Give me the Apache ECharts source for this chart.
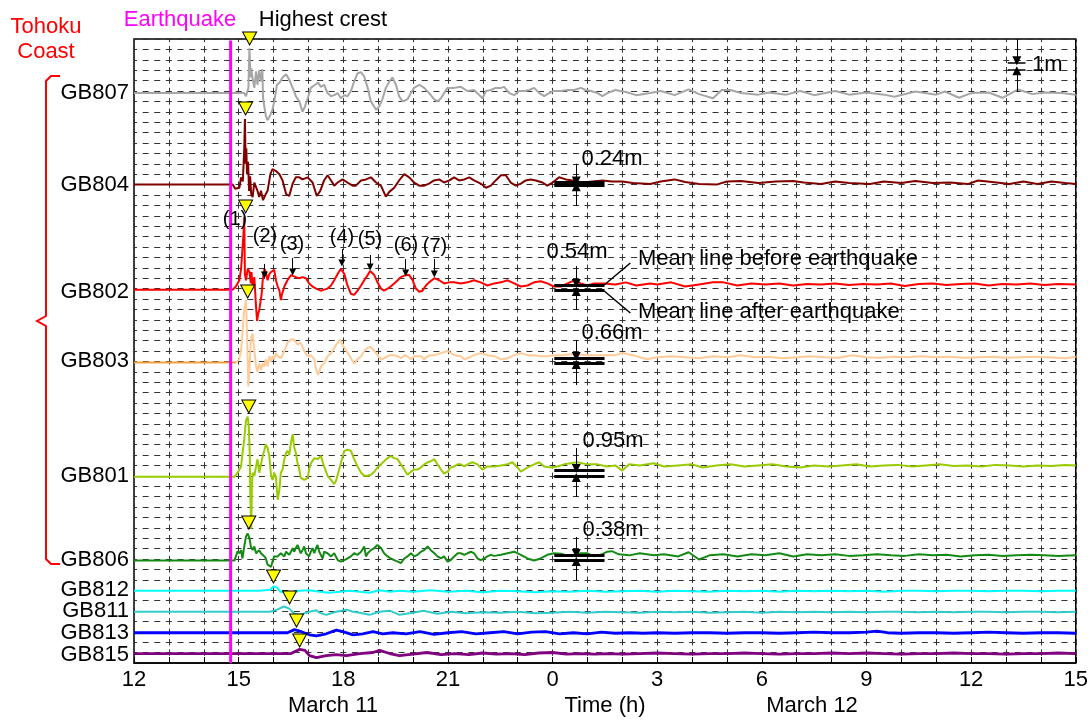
<!DOCTYPE html>
<html><head><meta charset="utf-8">
<script src="https://cdn.jsdelivr.net/npm/echarts@6/dist/echarts.min.js"></script>
<style>html,body{margin:0;padding:0;background:#fff}#c{width:1091px;height:720px}</style>
</head><body><div id="c"></div>
<script>
// ---------- DATA (time in hours from 00:00 March 11; offsets in grid rows) ----------
const stations = ['GB807','GB804','GB802','GB803','GB801','GB806','GB812','GB811','GB813','GB815'];
const baseLevels = [54.8, 46.0, 35.9, 28.9, 17.9, 9.85, 6.95, 4.93, 2.91, 0.91];
const lineColors = ['#A6A6A6','#800000','#FF0000','#FFCC99','#99CC00','#138A13','#00FFFF','#33CCCC','#0000FF','#800080'];
const preQuakeColorGB803 = '#F5A040';
const quakeTime = 14.77;

const gb807 = [[12,0],[14.77,0],[15.16,0],[15.21,-0.3],[15.28,0.5],[15.31,4.3],[15.34,1.5],[15.36,2.4],[15.40,1.4],[15.45,0.5],[15.50,2.1],[15.54,0.8],[15.59,2.2],[15.64,1.1],[15.68,2.3],[15.70,-0.5],[15.74,-0.6],[15.78,-2.2],[15.83,-2.6],[15.91,-2.1],[15.97,-1.6],[16.02,-0.8],[16.10,0.8],[16.17,1.0],[16.26,1.5],[16.36,1.8],[16.45,1.3],[16.55,0.5],[16.64,-0.3],[16.74,-0.8],[16.83,-1.8],[16.90,-1.3],[16.98,-0.5],[17.07,0.5],[17.19,0.8],[17.28,1.0],[17.36,0.6],[17.45,0.8],[17.55,0],[17.65,-0.3],[17.74,-0.2],[17.84,0],[17.93,-0.5],[18.03,-0.2],[18.12,-0.3],[18.22,0.2],[18.31,1.1],[18.41,1.9],[18.51,2.0],[18.60,1.6],[18.70,0.5],[18.79,-0.8],[18.94,-1.6],[19.03,-1.3],[19.13,-0.5],[19.22,0.5],[19.32,1.1],[19.41,1.5],[19.51,0.8],[19.60,-0.3],[19.70,-0.8],[19.84,-0.6],[19.94,0],[20.03,0.5],[20.18,0.8],[20.32,0.5],[20.46,0],[20.61,-0.6],[20.70,-0.8],[20.80,-0.5],[20.89,0],[20.99,0.5],[21.18,0.5],[21.37,0.6],[21.56,0.2],[21.75,0.3],[21.90,-0.2],[21.99,-0.5],[22.09,0.2],[22.23,0.3],[22.37,0.5],[22.52,0.5],[22.61,0.6],[22.76,0],[22.90,-0.2],[23.04,0.2],[23.19,0.2],[23.33,0.3],[23.47,0.5],[23.62,0],[23.76,-0.3],[23.90,0],[24.04,0.2],[24.24,0.2],[24.43,0.3],[24.62,0.3],[24.81,0.5],[24.95,0.3],[25.10,0.2],[25.29,0],[25.43,-0.3],[25.57,0],[25.8,0.3],[26.1,0.1],[26.4,-0.2],[26.8,0.0],[27.1,0.2],[27.5,-0.2],[27.9,0.35],[28.2,-0.1],[28.6,-0.5],[28.85,0.3],[29.1,0.3],[29.4,0],[29.9,-0.15],[30.2,0.05],[30.7,-0.15],[31.1,0.2],[31.5,-0.2],[32.1,0.2],[32.5,-0.15],[33.0,0.05],[33.5,-0.15],[33.8,-0.35],[34.4,0.15],[35.0,-0.15],[35.25,0.15],[35.65,-0.45],[36.0,0],[36.5,0.05],[36.9,-0.45],[37.35,0.35],[37.75,-0.1],[38.1,0.05],[38.6,0],[39,-0.15]];

const gb804 = [[12,0],[14.77,0],[14.83,0],[14.9,-0.4],[15.02,-0.3],[15.07,0.7],[15.12,0.3],[15.16,3.4],[15.18,6.3],[15.2,2.0],[15.22,3.5],[15.24,1.0],[15.27,2.2],[15.30,-0.6],[15.33,0.8],[15.36,-0.9],[15.40,-1.2],[15.45,0.2],[15.50,0.1],[15.54,-0.6],[15.59,-1.2],[15.64,-0.6],[15.70,-1.5],[15.74,-1.4],[15.78,-0.9],[15.83,-0.6],[15.91,1.0],[15.97,1.5],[16.07,1.3],[16.17,1.0],[16.26,0.4],[16.36,-0.9],[16.45,-1.1],[16.55,0.1],[16.64,0.7],[16.74,0.7],[16.83,0.5],[16.98,0.7],[17.12,0.2],[17.24,-1.1],[17.34,-0.6],[17.45,0.4],[17.55,0.9],[17.65,0.4],[17.74,-0.1],[17.84,0.2],[17.98,0.5],[18.12,0.2],[18.27,-0.1],[18.36,-0.1],[18.51,0.4],[18.65,0.5],[18.79,0.7],[18.94,0.2],[19.08,-0.1],[19.22,-1.15],[19.32,-0.7],[19.46,-0.3],[19.6,0.4],[19.75,1.0],[19.89,0.7],[20.03,0.2],[20.18,-0.1],[20.32,-0.1],[20.46,0.1],[20.6,0.4],[20.75,0.5],[20.89,0.2],[21.04,0.4],[21.18,0.7],[21.32,0.4],[21.47,0.5],[21.61,0.7],[21.75,0.4],[21.94,0.1],[22.09,-0.3],[22.23,-0.1],[22.37,0.4],[22.52,0.9],[22.66,0.9],[22.8,0.2],[22.95,-0.1],[23.09,0.1],[23.23,0.4],[23.37,0.5],[23.52,0.4],[23.71,0.2],[23.85,-0.1],[24.0,0.2],[24.19,0.7],[24.38,0.5],[24.57,0.4],[24.86,0.2],[25.14,0.3],[25.43,0.4],[25.7,0.3],[26.0,0.3],[26.3,0.15],[26.8,0.05],[27.1,0.3],[27.5,0.5],[27.8,0.25],[28.2,0.05],[28.7,0.0],[29.0,0.3],[29.4,0.35],[29.9,0.15],[30.4,0.3],[30.9,0.35],[31.2,0.2],[31.7,0.05],[32.1,0.3],[32.5,0.15],[33.1,0.05],[33.5,0.3],[34.0,0.15],[34.4,0.35],[34.9,0.15],[35.4,0.2],[35.9,0.05],[36.2,0.4],[36.6,0.25],[37.1,0.05],[37.5,0.3],[37.9,0.05],[38.3,0.3],[38.7,0.15],[39,0.05]];

const gb802 = [[12,0],[14.77,0],[14.83,0],[14.92,0.3],[15.02,0.9],[15.07,2.0],[15.11,1.9],[15.14,5.4],[15.16,7.0],[15.18,1.5],[15.21,0.9],[15.26,2.0],[15.31,1.7],[15.35,0.6],[15.37,1.7],[15.40,0.3],[15.45,1.2],[15.50,-1.7],[15.53,-3.0],[15.56,-2.3],[15.59,-2.0],[15.64,-2.0],[15.66,-0.4],[15.69,0.9],[15.74,2.0],[15.78,1.7],[15.83,0.9],[15.88,1.5],[15.93,1.7],[15.97,1.7],[16.02,1.9],[16.07,0.9],[16.12,0.3],[16.17,-0.1],[16.21,-1.0],[16.24,-0.5],[16.31,0.3],[16.40,0.9],[16.50,1.4],[16.55,1.5],[16.64,1.2],[16.74,1.1],[16.83,1.2],[16.93,1.1],[17.02,0.6],[17.12,0.3],[17.22,0.1],[17.36,-0.1],[17.45,0],[17.55,0.1],[17.65,0.4],[17.74,0.9],[17.84,1.5],[17.93,2.0],[18.03,1.5],[18.12,0.4],[18.22,-0.4],[18.31,-0.5],[18.41,-0.1],[18.51,0.4],[18.60,0.9],[18.70,1.4],[18.77,1.8],[18.89,1.4],[18.98,0.7],[19.08,0.1],[19.17,-0.1],[19.27,0.1],[19.36,0.3],[19.46,0.6],[19.56,0.9],[19.65,1.2],[19.79,1.4],[19.89,1.4],[19.99,0.9],[20.08,0.1],[20.18,-0.2],[20.27,-0.1],[20.37,0.4],[20.46,0.7],[20.61,1.1],[20.75,0.9],[20.89,0.6],[21.04,0.7],[21.18,0.7],[21.37,0.6],[21.56,0.7],[21.75,0.9],[21.94,0.7],[22.13,0.4],[22.33,0.6],[22.52,0.7],[22.71,0.9],[22.90,0.6],[23.09,0.3],[23.28,0.4],[23.47,0.7],[23.66,0.8],[23.85,0.6],[24.04,0.3],[24.24,0.3],[24.43,0.6],[24.62,0.9],[24.81,0.6],[25.0,0.4],[25.19,0.6],[25.48,0.6],[25.8,0.5],[26.1,0.7],[26.4,0.4],[26.8,0.6],[27.0,0.5],[27.4,0.7],[27.8,0.3],[28.2,0.5],[28.6,0.7],[28.9,0.7],[29.3,0.4],[29.7,0.6],[30.1,0.5],[30.5,0.6],[30.9,0.4],[31.3,0.55],[31.7,0.5],[32.1,0.6],[32.5,0.45],[32.9,0.55],[33.3,0.5],[33.7,0.6],[34.1,0.35],[34.5,0.55],[34.9,0.6],[35.3,0.45],[35.7,0.55],[36.1,0.6],[36.5,0.4],[36.9,0.55],[37.3,0.5],[37.7,0.6],[38.1,0.45],[38.5,0.55],[39,0.5]];

const gb803 = [[12,0],[14.77,0],[14.92,0],[15.02,0.3],[15.07,1.2],[15.11,2.8],[15.16,5.1],[15.21,6.0],[15.24,2.8],[15.28,-2.3],[15.32,-0.1],[15.35,2.2],[15.40,2.8],[15.45,1.2],[15.50,-0.4],[15.54,-0.9],[15.59,-0.1],[15.64,-0.7],[15.69,-0.1],[15.74,-0.4],[15.78,0.3],[15.83,-0.4],[15.88,0.6],[15.93,0.1],[15.97,0.6],[16.02,0.3],[16.07,0.9],[16.12,0.6],[16.21,0.4],[16.31,1.1],[16.40,1.9],[16.50,2.2],[16.59,2.2],[16.69,1.7],[16.78,1.9],[16.88,1.1],[16.98,0.6],[17.07,0.7],[17.17,0.3],[17.22,-0.7],[17.28,-1.2],[17.36,-0.4],[17.45,-0.1],[17.55,0.6],[17.65,0.9],[17.74,1.4],[17.84,1.9],[17.91,2.2],[17.98,1.7],[18.07,1.2],[18.17,0.7],[18.31,-0.1],[18.41,0.3],[18.51,0.6],[18.60,1.1],[18.70,1.4],[18.79,1.5],[18.89,1.1],[18.98,0.7],[19.08,0.3],[19.17,0.4],[19.27,0.6],[19.36,0.7],[19.46,0.7],[19.56,0.6],[19.65,0.4],[19.75,0.7],[19.84,0.6],[19.94,0.3],[20.03,0.6],[20.13,0.6],[20.23,0.6],[20.32,0.3],[20.42,0.6],[20.51,0.7],[20.61,0.7],[20.80,0.9],[20.99,1.1],[21.18,0.7],[21.37,0.6],[21.47,0.3],[21.56,0.4],[21.75,0.7],[21.94,0.9],[22.13,0.7],[22.33,0.6],[22.52,0.3],[22.71,0.4],[22.90,0.7],[23.09,0.9],[23.28,0.7],[23.47,0.7],[23.66,0.6],[23.85,0.6],[24.04,0.7],[24.24,0.7],[24.62,0.8],[25.0,0.7],[25.48,0.7],[25.8,0.7],[26.0,0.9],[26.3,0.7],[26.7,0.3],[27.0,0.5],[27.4,0.6],[27.8,0.5],[28.2,0.4],[28.6,0.6],[29.0,0.5],[29.4,0.7],[29.8,0.5],[30.2,0.55],[30.6,0.4],[31.0,0.5],[31.4,0.6],[31.8,0.5],[32.2,0.45],[32.6,0.7],[33.0,0.5],[33.4,0.45],[33.8,0.55],[34.2,0.5],[34.6,0.6],[35.0,0.5],[35.4,0.55],[35.8,0.45],[36.2,0.5],[36.6,0.55],[37.0,0.45],[37.4,0.5],[37.8,0.55],[38.2,0.5],[38.7,0.4],[39,0.55]];

const gb801 = [[12,0],[14.77,0],[14.88,0],[14.97,0.4],[15.07,1.0],[15.11,2.2],[15.16,3.6],[15.21,5.4],[15.26,5.8],[15.29,4.9],[15.32,2.0],[15.33,-1.2],[15.36,-5.0],[15.38,-1.0],[15.40,0.4],[15.45,0.1],[15.50,1.0],[15.54,1.7],[15.59,0.4],[15.64,0.5],[15.69,2.0],[15.74,2.6],[15.78,3.1],[15.83,2.8],[15.88,2.0],[15.93,0.1],[15.97,-0.3],[16.02,0.4],[16.07,-0.1],[16.12,-2.2],[16.17,-1.2],[16.21,0.4],[16.26,0.7],[16.31,1.7],[16.36,2.3],[16.40,2.5],[16.45,2.1],[16.50,3.3],[16.55,4.1],[16.59,2.9],[16.64,2.3],[16.69,1.3],[16.74,0.7],[16.78,-0.1],[16.88,-0.3],[16.98,-0.1],[17.02,0.7],[17.07,1.3],[17.17,1.8],[17.26,1.7],[17.36,2.0],[17.45,1.0],[17.55,0.1],[17.65,-0.3],[17.74,-0.7],[17.79,-0.4],[17.84,0.2],[17.93,1.3],[18.03,2.5],[18.12,2.6],[18.22,2.5],[18.31,1.7],[18.41,1.0],[18.51,0.4],[18.60,0.1],[18.70,0.1],[18.79,0.2],[18.89,0.5],[18.98,0.9],[19.08,1.2],[19.17,1.5],[19.27,1.8],[19.36,2.0],[19.46,1.8],[19.56,1.7],[19.65,1.2],[19.75,0.7],[19.84,0.2],[19.94,0.5],[20.03,0.7],[20.13,0.7],[20.23,0.9],[20.32,1.2],[20.42,1.4],[20.51,1.5],[20.61,1.7],[20.70,1.2],[20.80,0.7],[20.89,0.3],[20.99,0.5],[21.08,0.9],[21.18,1.0],[21.28,1.2],[21.37,1.2],[21.47,1.0],[21.56,1.2],[21.70,1.4],[21.85,1.2],[21.99,0.7],[22.13,1.0],[22.33,1.0],[22.52,1.1],[22.71,1.2],[22.85,1.4],[22.99,0.9],[23.09,0.5],[23.28,0.9],[23.47,1.2],[23.62,1.4],[23.76,1.0],[23.95,0.9],[24.14,1.0],[24.33,1.2],[24.52,1.3],[24.71,1.4],[25.0,1.2],[25.29,1.2],[25.57,1.0],[25.8,1.1],[26.0,0.6],[26.2,1.2],[26.5,1.1],[26.9,1.3],[27.2,1.0],[27.6,1.1],[28.0,1.2],[28.3,0.9],[28.7,1.1],[29.1,1.2],[29.5,1.0],[29.9,1.1],[30.3,1.2],[30.7,1.0],[31.1,0.9],[31.5,1.1],[31.9,1.0],[32.3,1.1],[32.7,1.2],[33.1,1.0],[33.5,1.1],[33.9,1.15],[34.3,1.0],[34.7,1.1],[35.1,1.2],[35.5,1.05],[35.9,1.1],[36.3,1.0],[36.7,1.15],[37.1,1.1],[37.5,1.0],[37.9,1.1],[38.3,1.05],[38.7,1.15],[39,1.1]];

const gb806 = [[12,0],[14.77,0],[14.88,0],[14.92,0.4],[14.97,0.9],[15.02,0.7],[15.07,1.0],[15.11,0.2],[15.16,1.35],[15.21,2.3],[15.26,2.6],[15.31,2.15],[15.35,1.35],[15.40,1.0],[15.45,1.35],[15.50,0.7],[15.54,0.55],[15.59,1.0],[15.64,0.7],[15.69,0.85],[15.74,0.4],[15.78,0.2],[15.83,-0.4],[15.88,-0.25],[15.93,-0.6],[15.97,-0.1],[16.02,0.4],[16.07,0.55],[16.12,0.4],[16.17,0.55],[16.21,0.7],[16.26,0.55],[16.31,0.4],[16.36,0.85],[16.40,1.0],[16.45,0.55],[16.50,0.85],[16.55,1.2],[16.59,0.85],[16.64,1.2],[16.69,1.5],[16.74,1.35],[16.78,0.7],[16.83,1.0],[16.88,1.35],[16.93,0.7],[16.98,0.55],[17.02,0.4],[17.07,0.85],[17.12,1.2],[17.17,0.7],[17.22,1.2],[17.26,1.5],[17.31,0.85],[17.36,0.7],[17.41,0.2],[17.45,0.85],[17.50,1.0],[17.55,0.7],[17.65,0.4],[17.74,0.7],[17.84,0.05],[17.93,-0.1],[18.03,0.05],[18.12,0.2],[18.22,0.4],[18.31,0.7],[18.41,0.55],[18.51,0.85],[18.60,1.35],[18.65,0.4],[18.70,0.7],[18.79,1.0],[18.89,1.2],[18.98,1.5],[19.08,1.2],[19.17,0.7],[19.27,0.4],[19.36,0.2],[19.46,0.05],[19.56,-0.1],[19.65,-0.25],[19.75,0.2],[19.84,0.4],[19.94,0.7],[20.03,0.4],[20.13,0.55],[20.23,0.85],[20.32,1.0],[20.42,1.35],[20.51,1.0],[20.61,0.7],[20.70,0.4],[20.80,0.2],[20.89,0.4],[20.99,-0.1],[21.08,0.05],[21.18,0.4],[21.28,0.7],[21.37,0.7],[21.47,0.55],[21.56,0.7],[21.66,0.85],[21.75,0.7],[21.85,0.2],[21.94,0.05],[22.04,0.2],[22.13,0.4],[22.23,0.55],[22.33,0.45],[22.52,0.55],[22.71,0.7],[22.90,0.85],[23.09,0.55],[23.28,0.2],[23.47,0],[23.66,0.2],[23.85,0.55],[24.04,0.7],[24.24,0.65],[24.43,0.45],[24.62,0.55],[24.81,0.7],[25.0,0.7],[25.19,0.4],[25.38,0.55],[25.57,0.85],[25.7,0.9],[25.9,0.6],[26.2,0.5],[26.5,0.7],[26.9,0.5],[27.2,0.6],[27.6,0.4],[27.9,0.8],[28.2,0.1],[28.5,0.5],[28.9,0.6],[29.3,0.4],[29.7,0.6],[30.1,0.5],[30.5,0.7],[30.9,0.4],[31.3,0.6],[31.7,0.5],[32.1,0.6],[32.5,0.45],[32.9,0.5],[33.3,0.6],[33.7,0.5],[34.1,0.45],[34.5,0.6],[34.9,0.5],[35.3,0.55],[35.7,0.4],[36.1,0.5],[36.5,0.55],[36.9,0.45],[37.3,0.5],[37.7,0.55],[38.1,0.5],[38.5,0.45],[39,0.5]];

const gb812 = [[12,0],[15.6,0],[15.9,0.1],[16.0,0.4],[16.1,0.3],[16.2,-0.1],[16.46,-0.2],[16.75,0],[17.03,0.05],[17.32,-0.1],[17.61,-0.2],[17.89,-0.1],[18.18,0],[18.47,-0.1],[18.75,-0.2],[19.04,0.05],[19.33,-0.1],[19.61,0],[20,-0.1],[20.5,0.05],[21,-0.1],[21.5,0],[22,-0.15],[22.5,0],[23,-0.05],[23.5,-0.15],[24,-0.05],[24.5,-0.1],[25,0],[25.5,-0.1],[26,-0.05],[26.5,0],[27,-0.1],[27.5,0],[28,-0.05],[28.5,-0.1],[29,0],[29.5,-0.05],[30,0],[30.5,-0.1],[31,0],[31.5,-0.05],[32,0],[32.5,-0.05],[33,0],[33.5,-0.1],[34,0],[34.5,0],[35,-0.05],[35.5,0],[36,0],[36.5,-0.05],[37,0],[37.5,0],[38,-0.05],[38.5,0],[39,0]];

const gb811 = [[12,0],[15.9,0],[16.1,0.2],[16.3,0.5],[16.45,0.3],[16.6,-0.2],[16.75,-0.3],[17.03,0],[17.23,0.15],[17.32,-0.1],[17.51,-0.3],[17.8,0],[18.09,0.2],[18.28,0],[18.47,-0.1],[18.75,-0.3],[19.04,0],[19.33,0.1],[19.61,-0.3],[20,-0.1],[20.3,0.1],[20.7,-0.2],[21.1,0],[21.5,-0.15],[22,-0.05],[22.5,-0.1],[23,0],[23.5,-0.15],[24,-0.1],[24.5,0],[25,-0.1],[25.5,0],[26,-0.05],[26.5,-0.1],[27,0],[27.5,-0.05],[28,0],[28.5,-0.1],[29,-0.05],[29.5,0],[30,-0.1],[30.5,0],[31,-0.05],[31.5,0],[32,-0.05],[32.5,0],[33,-0.05],[33.5,0],[34,0],[34.5,-0.05],[35,0],[35.5,-0.05],[36,0],[36.5,0],[37,-0.05],[37.5,0],[38,0],[38.5,-0.05],[39,0]];

const gb813 = [[12,0],[16.4,0],[16.6,0.3],[16.8,0.1],[17.03,-0.2],[17.23,-0.3],[17.51,-0.1],[17.8,0.25],[17.99,0.1],[18.28,-0.2],[18.56,-0.1],[18.85,0.1],[19.13,-0.1],[19.42,0],[19.8,-0.1],[20.2,0.1],[20.6,-0.15],[21,0],[21.4,0.1],[21.8,-0.1],[22.2,0],[22.6,0.1],[23,-0.1],[23.4,0.05],[23.8,0.1],[24.2,-0.1],[24.6,0],[25,-0.1],[25.4,0.05],[25.8,-0.05],[26.2,0],[26.6,-0.05],[27,0],[27.5,-0.05],[28,0],[28.5,0],[29,-0.05],[29.5,0],[30,0],[30.5,-0.05],[31,0],[31.5,0.05],[32,0],[32.5,0],[33,0.05],[33.3,0.15],[33.6,0],[34,-0.05],[34.5,0],[35,0],[35.5,-0.05],[36,0],[36.5,0.05],[37,0],[37.5,-0.05],[38,0],[38.5,0],[39,-0.05]];

const gb815 = [[12,0],[16.5,0],[16.75,0.4],[16.9,0.3],[17.03,-0.2],[17.23,-0.4],[17.51,-0.2],[17.8,-0.1],[18.09,-0.2],[18.47,0],[18.85,0.1],[19.04,0.3],[19.33,0],[19.61,-0.2],[20,-0.05],[20.4,0.1],[20.8,-0.1],[21.2,0],[21.6,-0.1],[22,0.05],[22.4,-0.05],[22.8,0],[23.2,-0.1],[23.6,0.05],[24,0.1],[24.4,-0.05],[24.8,0],[25.2,-0.05],[25.6,0],[26,-0.05],[26.5,0],[27,0.05],[27.5,0],[28,-0.05],[28.5,0],[29,0],[29.5,0.05],[30,0],[30.5,-0.05],[31,0],[31.5,0],[32,0.05],[32.5,0],[33,0.05],[33.5,0],[34,-0.05],[34.5,0],[35,0],[35.5,0.05],[36,0],[36.5,0],[37,-0.05],[37.5,0],[38,0],[38.5,0.05],[39,0]];

// highest crest markers (time, level of triangle tip)
const crestTimes = [15.315, 15.20, 15.20, 15.26, 15.29, 15.29, 16.0, 16.46, 16.66, 16.75];
const crestTips  = [59.42, 52.69, 43.27, 35.1, 24.04, 12.88, 7.69, 5.67, 3.46, 1.54];

// mean lines before/after earthquake (GB804, GB802, GB803, GB801, GB806)
const meanLabels = ['0.24m','0.54m','0.66m','0.95m','0.38m'];
const meanBefore = [46.2, 36.35, 29.33, 18.56, 10.38];
const meanAfter  = [45.95, 35.87, 28.85, 17.98, 9.90];
const meanArrowTop = [48.0, 38.17, 31.06, 20.67, 12.12];
const meanArrowBottom = [43.94, 33.94, 26.73, 15.96, 7.98];
const meanBarStart = 24.05, meanBarEnd = 25.49, meanArrowX = 24.68;

// numbered wave crests of GB802
const waveNumbers = ['(2)','(3)','(4)','(5)','(6)','(7)'];
const waveTimes = [15.74, 16.55, 17.96, 18.77, 19.79, 20.61];
const waveArrowFrom = [38.37, 38.94, 39.8, 39.23, 38.85, 38.85];
const waveArrowTo = [37.31, 37.6, 38.46, 38.08, 37.5, 37.4];

const xTickLabels = {12:'12',15:'15',18:'18',21:'21',24:'0',27:'3',30:'6',33:'9',36:'12',39:'15'};

// ---------- CHART ----------
const FONT = '"Liberation Sans", Arial, sans-serif';
const chart = echarts.init(document.getElementById('c'), null, {renderer:'canvas'});
const traces = [gb807, gb804, gb802, gb803, gb801, gb806, gb812, gb811, gb813, gb815];
const widths = [2, 2, 2, 2, 2, 2, 2, 2, 2.8, 2.8];

const series = [];
traces.forEach((tr, i) => {
  const pts = tr.map(p => [p[0], baseLevels[i] + p[1]]);
  if (i === 3) {
    series.push({type:'line', name: stations[i] + ' pre', data: pts.filter(p => p[0] <= 14.92),
      showSymbol:false, symbol:'none', lineStyle:{color: preQuakeColorGB803, width: widths[i]}, z:3, animation:false});
    series.push({type:'line', name: stations[i], data: pts.filter(p => p[0] >= 14.92),
      showSymbol:false, symbol:'none', lineStyle:{color: lineColors[i], width: widths[i]}, z:3, animation:false});
  } else {
    series.push({type:'line', name: stations[i], data: pts, showSymbol:false, symbol:'none',
      lineStyle:{color: lineColors[i], width: widths[i]}, z:3, animation:false});
  }
});

// annotation lines
const ml = [];
const arrowTip = {symbol:'triangle', symbolSize: 9};
meanBefore.forEach((v, i) => {
  ml.push([{coord:[meanBarStart, v], symbol:'none', lineStyle:{width:3, color:'#000'}}, {coord:[meanBarEnd, v], symbol:'none'}]);
  ml.push([{coord:[meanBarStart, meanAfter[i]], symbol:'none', lineStyle:{width:3, color:'#000'}}, {coord:[meanBarEnd, meanAfter[i]], symbol:'none'}]);
  ml.push([{coord:[meanArrowX, meanArrowTop[i]], symbol:'none', lineStyle:{width:1, color:'#000'}}, Object.assign({coord:[meanArrowX, v + 0.15]}, arrowTip)]);
  ml.push([{coord:[meanArrowX, meanArrowBottom[i]], symbol:'none', lineStyle:{width:1, color:'#000'}}, Object.assign({coord:[meanArrowX, meanAfter[i] - 0.15]}, arrowTip)]);
});
ml.push([{coord:[25.48, 36.35], symbol:'none', lineStyle:{width:1.5, color:'#000'}}, {coord:[26.23, 38.46], symbol:'none'}]);
ml.push([{coord:[25.48, 35.77], symbol:'none', lineStyle:{width:1.5, color:'#000'}}, {coord:[26.23, 33.65], symbol:'none'}]);
waveTimes.forEach((t, i) => {
  ml.push([{coord:[t, waveArrowFrom[i]], symbol:'none', lineStyle:{width:1, color:'#000'}}, {coord:[t, waveArrowTo[i]], symbol:'triangle', symbolSize:7}]);
});
ml.push([{coord:[37.05, 57.76], symbol:'none', lineStyle:{width:1.5, color:'#000'}}, {coord:[37.56, 57.76], symbol:'none'}]);
ml.push([{coord:[37.05, 57.09], symbol:'none', lineStyle:{width:1.5, color:'#000'}}, {coord:[37.56, 57.09], symbol:'none'}]);
ml.push([{coord:[37.31, 60], symbol:'none', lineStyle:{width:1, color:'#000'}}, {coord:[37.31, 57.9], symbol:'triangle', symbolSize:9}]);
ml.push([{coord:[37.31, 54.9], symbol:'none', lineStyle:{width:1, color:'#000'}}, {coord:[37.31, 56.95], symbol:'triangle', symbolSize:9}]);

series.push({
  type:'line', name:'annotations', data:[[12,-5]], showSymbol:false, symbol:'none', lineStyle:{width:0}, z:6, animation:false,
  markLine:{silent:true, animation:false, label:{show:false}, symbol:['none','none'],
    lineStyle:{type:'solid', color:'#000'}, data: ml}
});

// earthquake line
series.push({
  type:'line', name:'Earthquake', data:[[quakeTime, 0], [quakeTime, 59.85]], showSymbol:false, symbol:'none',
  lineStyle:{color:'#FF00FF', width:3}, z:7, animation:false
});

series.push({
  type:'scatter', name:'Highest crest', z:8, animation:false,
  data: crestTimes.map((t, i) => [t, crestTips[i]]),
  symbol:'triangle', symbolRotate:180, symbolSize:[14,13], symbolOffset:[0,-6.5],
  itemStyle:{color:'#FFFF00', borderColor:'#000', borderWidth:1, opacity:1},
  clip:false
});

// texts
const texts = [];
function TS(text, x, y, opts) {
  texts.push({type:'text', x, y, z:100, style:Object.assign({text, fill:'#000', font:'22px ' + FONT,
    textAlign:'center', align:'center', textVerticalAlign:'middle', verticalAlign:'middle'}, opts || {})});
}
TS('Tohoku', 46, 27, {fill:'#FF0000'});
TS('Coast', 46, 52, {fill:'#FF0000'});
TS('Earthquake', 180, 20, {fill:'#FF00FF'});
TS('Highest crest', 323, 20, {});
const labelY = [93, 185, 292, 361, 476, 560, 590, 611, 633, 655];
stations.forEach((s, i) => TS(s, 129, labelY[i], {textAlign:'right', align:'right'}));
TS('(1)', 235, 219, {font:'20px ' + FONT});
const waveLabelPos = [[265,236],[292,244],[342,237],[370,239],[406,245],[435,246]];
waveNumbers.forEach((n, i) => TS(n, waveLabelPos[i][0], waveLabelPos[i][1], {font:'20px ' + FONT}));
const meanLabelPos = [[612,159],[577,252],[612,333],[613,441],[613,530]];
meanLabels.forEach((n, i) => TS(n, meanLabelPos[i][0], meanLabelPos[i][1], {}));
TS('Mean line before earthquake', 638, 259, {textAlign:'left', align:'left'});
TS('Mean line after earthquake', 638, 312, {textAlign:'left', align:'left'});
TS('1m', 1032, 65, {textAlign:'left', align:'left'});
TS('March 11', 333, 706, {});
TS('Time (h)', 605, 706, {});
TS('March 12', 812, 706, {});

const graphics = texts.slice();
graphics.push({type:'polyline', z:100, shape:{points:[[60,76],[51,76],[46,81],[46,316],[37,321],[46,326],[46,559],[51,564],[60,564]]},
  style:{stroke:'#FF0000', lineWidth:2, fill:null}});

chart.setOption({
  animation:false,
  backgroundColor:'#fff',
  grid:{left:134, right:15, top:39, bottom:57, show:true, borderColor:'#000', borderWidth:1.5, backgroundColor:'transparent'},
  xAxis:{type:'value', min:12, max:39, interval:1,
    axisLine:{show:true, lineStyle:{color:'#000', width:1.5}},
    axisTick:{show:true, inside:true, length:6, lineStyle:{color:'#000', width:1}},
    axisLabel:{color:'#000', fontSize:22, fontFamily:FONT, margin:6,
      formatter: v => (xTickLabels[Math.round(v)] !== undefined ? xTickLabels[Math.round(v)] : '')},
    splitLine:{show:true, lineStyle:{color:'#333', width:1, type:[6.4,4], dashOffset:3.2}}
  },
  yAxis:{type:'value', min:0, max:60, interval:1,
    axisLine:{show:false}, axisTick:{show:false}, axisLabel:{show:false},
    splitLine:{show:true, lineStyle:{color:'#333', width:1, type:[6,5.63], dashOffset:3}}
  },
  series,
  graphic: graphics
});
</script>
</body></html>
